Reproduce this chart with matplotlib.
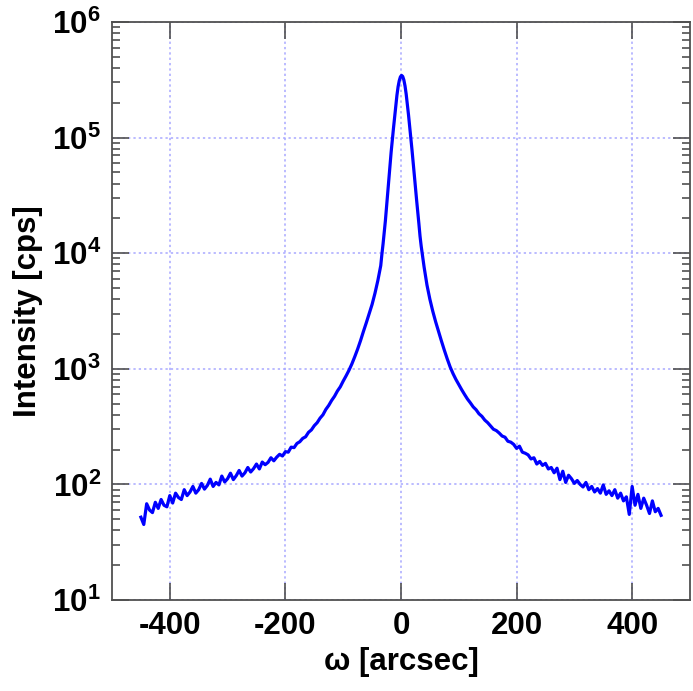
import numpy as np
import matplotlib
matplotlib.use('Agg')
import matplotlib.pyplot as plt
from matplotlib.ticker import LogLocator, NullLocator, NullFormatter

plt.rcParams['font.family'] = ['Liberation Sans', 'DejaVu Sans']
plt.rcParams['font.weight'] = 'bold'
plt.rcParams['mathtext.fontset'] = 'custom'
plt.rcParams['mathtext.rm'] = 'Liberation Sans:bold'
plt.rcParams['mathtext.bf'] = 'Liberation Sans:bold'

# rocking curve, omega scan (arcsec) vs intensity (cps)
omega_left = np.arange(-450, -34, 5)
int_left = [52, 45, 68, 60, 57, 70, 62, 74, 66, 64,
            80, 69, 84, 77, 74, 90, 80, 86, 96, 84,
            90, 102, 91, 98, 111, 96, 104, 99, 118, 105,
            112, 125, 110, 119, 132, 118, 126, 140, 128, 137,
            150, 136, 156, 148, 155, 170, 160, 172, 182, 176,
            192, 190, 210, 208, 226, 234, 250, 258, 282, 296,
            322, 342, 374, 400, 445, 482, 532, 578, 642, 698,
            782, 868, 970, 1100, 1270, 1480, 1750, 2100, 2500, 3000,
            3600, 4500, 5800, 7800]

omega_mid = np.arange(-33, 34, 2)
int_mid = [9800, 12000, 15000, 19000, 25000, 33000, 43000, 57000, 75000, 96000,
           120000, 150000, 190000, 232000, 275000, 310000, 335000, 345000, 338000, 315000,
           280000, 238000, 195000, 158000, 126000, 100000, 79000, 62000, 48000, 37000,
           29000, 23000, 18000, 14000]

omega_right = np.arange(35, 451, 5)
int_right = [11500, 7600, 5300, 4000, 3150, 2550, 2100, 1740, 1450, 1220,
             1040, 910, 810, 730, 660, 600, 548, 508, 468, 442,
             408, 388, 360, 342, 320,
             300, 292, 278, 262, 256, 236, 232, 222, 205, 214,
             190, 186, 180, 166, 170, 150, 158, 146, 152, 136,
             140, 126, 138, 110, 130, 104, 120, 112, 102, 108,
             100, 95, 104, 90, 96, 86, 92, 84, 99, 82,
             88, 80, 90, 76, 84, 72, 78, 55, 96, 66,
             82, 62, 76, 66, 56, 72, 58, 62, 54]

omega = np.concatenate([omega_left, omega_mid, omega_right])
intensity = np.concatenate([int_left, int_mid, int_right])

xticks = [-400, -200, 0, 200, 400]
ydecades = [1, 2, 3, 4, 5, 6]

fig = plt.figure(figsize=(6.93, 6.91), dpi=100)
ax = fig.add_axes([0.1616, 0.1317, 0.834, 0.8365])

ax.plot(omega, intensity, color='#0000ff', lw=2.3)

ax.set_yscale('log')
ax.set_xlim(-500, 500)
ax.set_ylim(10, 1e6)

ax.set_xticks(xticks)
ax.set_xticklabels([str(t) for t in xticks])
ax.xaxis.set_minor_locator(NullLocator())
ax.set_yticks([10.0**k for k in ydecades])
ax.set_yticklabels([r'$10^{%d}$' % k for k in ydecades])
ax.yaxis.set_minor_locator(LogLocator(base=10, subs=np.arange(2, 10)))
ax.yaxis.set_minor_formatter(NullFormatter())

ax.grid(True, which='major', color='#a8a8ff', linestyle=(0, (1.5, 2)), lw=1.1)

ax.tick_params(which='both', direction='in', top=True, right=True,
               color='#505050', width=1.2, labelsize=22.5, pad=8)
ax.tick_params(which='major', length=12)
ax.tick_params(which='minor', length=6)
for s in ax.spines.values():
    s.set_color('#505050')
    s.set_linewidth(1.3)

ax.set_xlabel('ω [arcsec]', fontsize=22.5, fontweight='bold', labelpad=4)
ax.set_ylabel('Intensity [cps]', fontsize=22.5, fontweight='bold', labelpad=6)

fig.savefig('out.png', dpi=100)
